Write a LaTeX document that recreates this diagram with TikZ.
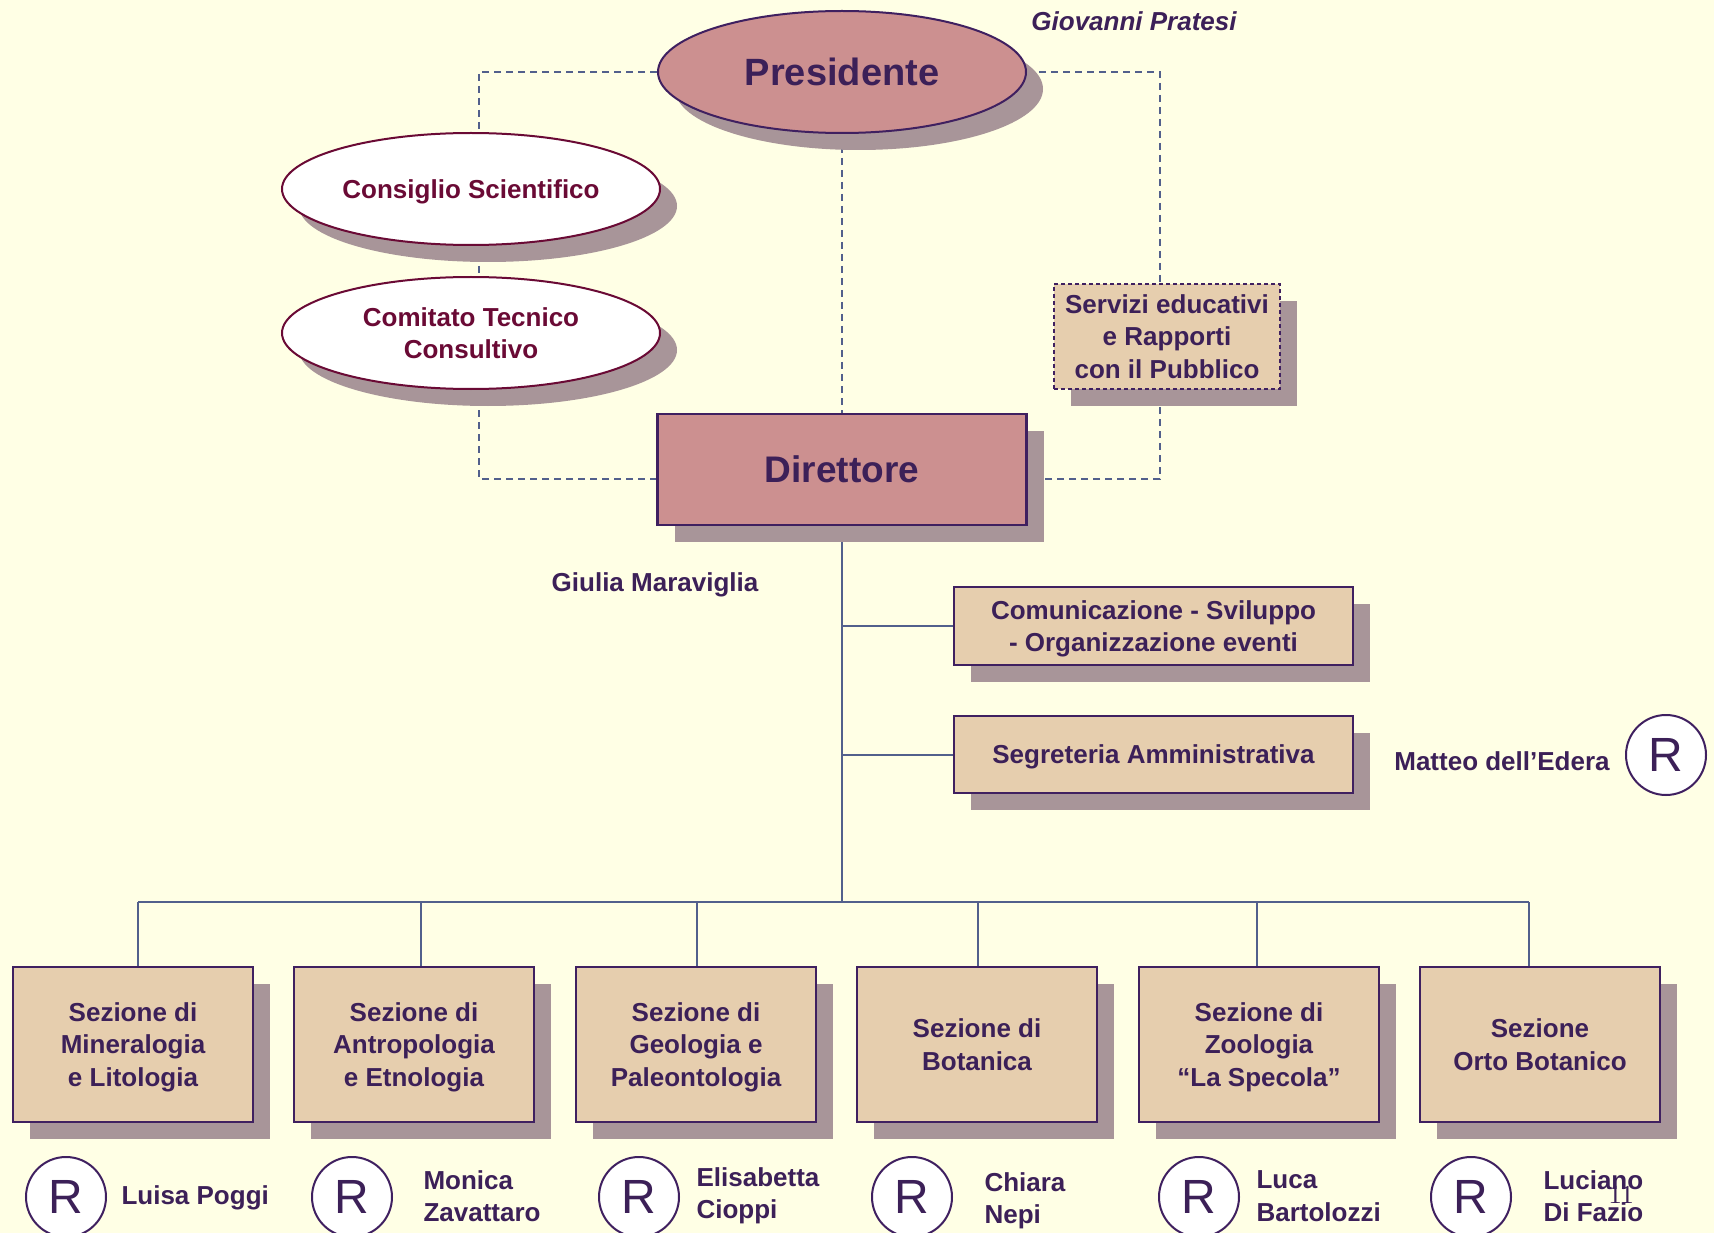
\documentclass[tikz,border=0pt]{standalone}
\usepackage{fontspec}
\setmainfont{Liberation Sans}
\newfontfamily\numfont{Liberation Serif}
\usetikzlibrary{shapes.geometric,shadows,backgrounds}
\definecolor{bgc}{HTML}{FFFFE5}
\definecolor{pinkc}{HTML}{CC9090}
\definecolor{shadc}{HTML}{A89599}
\definecolor{tanc}{HTML}{E6CEAE}
\definecolor{bordc}{HTML}{3F2060}
\definecolor{txtc}{HTML}{3C2058}
\definecolor{maroonc}{HTML}{6A0A35}
\definecolor{linec}{HTML}{52608C}
\tikzset{
  shad/.style={drop shadow={shadow xshift=17pt,shadow yshift=-17pt,fill=shadc,opacity=1}},
  txt/.style={font=\bfseries\fontsize{26}{32.5}\selectfont,text=txtc,align=center},
  topell/.style={ellipse,draw=bordc,line width=2pt,fill=pinkc,shad,inner sep=0pt,text depth=0pt,
    minimum width=368pt,minimum height=122pt,font=\bfseries\fontsize{38}{44}\selectfont,text=txtc},
  councilell/.style={ellipse,draw=maroonc,line width=2pt,fill=white,shad,inner sep=0pt,text depth=0pt,
    minimum width=378pt,minimum height=112pt,font=\bfseries\fontsize{26}{32.5}\selectfont,text=maroonc,align=center},
  dirbox/.style={rectangle,draw=bordc,line width=2.5pt,fill=pinkc,shad,inner sep=0pt,text depth=0pt,
    minimum width=369pt,minimum height=111pt,font=\bfseries\fontsize{37}{44}\selectfont,text=txtc},
  tanbox/.style={rectangle,draw=bordc,line width=2.5pt,fill=tanc,shad,inner sep=0pt,txt,text depth=0pt},
  secbox/.style={tanbox,minimum width=240pt,minimum height=155pt},
  rcirc/.style={circle,draw=bordc,line width=2pt,fill=white,minimum size=80pt,inner sep=0pt,
    font=\fontsize{48}{48}\selectfont,text=txtc},
  namelbl/.style={anchor=west,font=\bfseries\fontsize{26}{32.5}\selectfont,text=txtc,align=left},
  dashline/.style={draw=linec,line width=2pt,dash pattern=on 7pt off 5pt},
  solidline/.style={draw=linec,line width=2pt},
}
\begin{document}
\begin{tikzpicture}[x=1pt,y=-1pt]
\useasboundingbox (0,0) rectangle (1714,1233);
\begin{scope}
\clip (0,0) rectangle (1714,1233);
% main nodes
\node[topell] (pres) at (842,72) {Presidente};
\node[councilell] (cons) at (471,189) {Consiglio Scientifico};
\node[councilell] (comt) at (471,333) {Comitato Tecnico\\Consultivo};
\node[dirbox] (dir) at (842,469.5) {Direttore};
\node[rectangle,draw=bordc,line width=1.5pt,dash pattern=on 4pt off 3pt,fill=tanc,shad,inner sep=0pt,
      minimum width=226pt,minimum height=105pt,txt,text depth=0pt] (serv) at (1167,336.5)
      {Servizi educativi\\e Rapporti\\con il Pubblico};
\node[tanbox,minimum width=399pt,minimum height=78pt] (comm) at (1153.5,626)
      {Comunicazione - Sviluppo\\- Organizzazione eventi};
\node[tanbox,minimum width=399pt,minimum height=77pt] (segr) at (1153.5,754.5)
      {Segreteria Amministrativa};
\node[secbox] (s1) at (133,1044.5) {Sezione di\\Mineralogia\\e Litologia};
\node[secbox] (s2) at (414,1044.5) {Sezione di\\Antropologia\\e Etnologia};
\node[secbox] (s3) at (696,1044.5) {Sezione di\\Geologia e\\Paleontologia};
\node[secbox] (s4) at (977,1044.5) {Sezione di\\Botanica};
\node[secbox] (s5) at (1259,1044.5) {Sezione di\\Zoologia\\“La Specola”};
\node[secbox] (s6) at (1540,1044.5) {Sezione\\Orto Botanico};
% labels
\node[txt,font=\bfseries\itshape\fontsize{26}{32.5}\selectfont] (gp) at (1134,21) {Giovanni Pratesi};
\node[txt] (gm) at (655,585) {Giulia Maraviglia};
\node[txt] (me) at (1502,761) {Matteo dell’Edera};
\node[rcirc] (rme) at (1666,755) {R};
\node[rcirc] (r1) at (66,1197) {R};
\node[rcirc] (r2) at (352,1197) {R};
\node[rcirc] (r3) at (639,1197) {R};
\node[rcirc] (r4) at (912,1197) {R};
\node[rcirc] (r5) at (1199,1197) {R};
\node[rcirc] (r6) at (1471,1197) {R};
\node[namelbl] (n1) at (118,1198) {Luisa Poggi};
\node[namelbl] (n2) at (420,1196) {Monica\\Zavattaro};
\node[namelbl] (n3) at (693,1196) {Elisabetta\\Cioppi};
\node[namelbl] (n4) at (981,1201) {Chiara\\Nepi};
\node[namelbl] (n5) at (1253,1196) {Luca\\Bartolozzi};
\node[namelbl] (n6) at (1540,1196) {Luciano\\Di Fazio};
\node[font=\numfont\fontsize{26}{26}\selectfont,text=txtc] (pg) at (1621,1195) {11};
% connectors on background
\begin{pgfonlayer}{background}
\fill[bgc] (0,0) rectangle (1714,1233);
\coordinate (dl) at (479,479);
\coordinate (dr) at (1160,479);
\coordinate (bus) at (842,902);
\coordinate (d1) at (138,902);
\coordinate (d2) at (421,902);
\coordinate (d3) at (697,902);
\coordinate (d4) at (978,902);
\coordinate (d5) at (1257,902);
\coordinate (d6) at (1529,902);
\draw[dashline] (pres.west) -| (dl) -- (dir.west |- dl);
\draw[dashline] (pres.east) -| (dr) -- (dir.east |- dr);
\draw[dashline] (pres.south) -- (dir.north);
\draw[solidline] (dir.south) -- (bus);
\draw[solidline] (comm.west) -- (comm.west -| dir.south);
\draw[solidline] (segr.west) -- (segr.west -| dir.south);
\draw[solidline] (d1) -- (d6);
\foreach \d/\s in {d1/s1,d2/s2,d3/s3,d4/s4,d5/s5,d6/s6}{
  \draw[solidline] (\d) -- (\d |- \s.north);
}
\end{pgfonlayer}
\end{scope}
\end{tikzpicture}
\end{document}
